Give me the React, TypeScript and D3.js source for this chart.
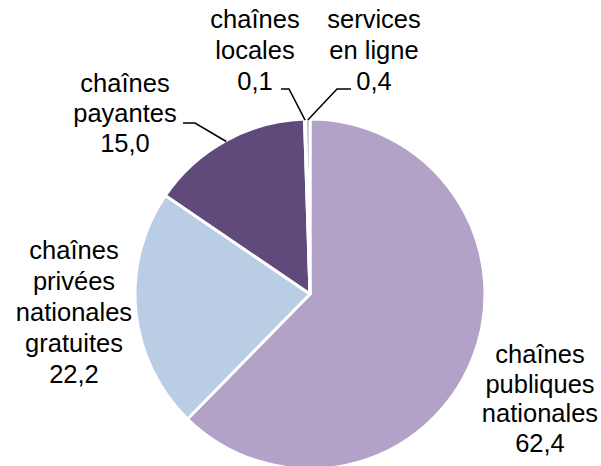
import React from "react";
import * as d3 from "d3";

// Audience share by channel type
const categories = [
  "chaînes publiques nationales",
  "chaînes privées nationales gratuites",
  "chaînes payantes",
  "chaînes locales",
  "services en ligne",
];
const values = [62.4, 22.2, 15.0, 0.1, 0.4];
const labelLines = [
  ["chaînes", "publiques", "nationales"],
  ["chaînes", "privées", "nationales", "gratuites"],
  ["chaînes", "payantes"],
  ["chaînes", "locales"],
  ["services", "en ligne"],
];
const colors = ["#B3A2C7", "#B9CDE5", "#604A7B", "#7F6A9A", "#A6A6A6"];

// Label placement: centre x, first baseline y, line step, optional leader knee
type LabelLayout = {
  x: number;
  y: number;
  step: number;
  leader?: { x0: number; x1: number; y: number };
};
const labelLayout: LabelLayout[] = [
  { x: 540, y: 363, step: 29.5 },
  { x: 74, y: 259, step: 31 },
  { x: 125, y: 92, step: 30, leader: { x0: 183, x1: 195, y: 123 } },
  { x: 255, y: 28, step: 31, leader: { x0: 281, x1: 289, y: 89 } },
  { x: 374, y: 28, step: 31, leader: { x0: 351, x1: 337, y: 89 } },
];

const W = 601;
const H = 466;
const cx = 310;
const cy = 294;
const R = 175;

const fmt = (v: number) => v.toFixed(1).replace(".", ",");

export default function App() {
  const pie = d3
    .pie<number>()
    .sort(null)
    .startAngle(0)
    .endAngle(2 * Math.PI)
    .value((d) => d);
  const arcs = pie(values);
  const arc = d3.arc<d3.PieArcDatum<number>>().innerRadius(0).outerRadius(R);

  return (
    <svg
      width={W}
      height={H}
      style={{ position: "absolute", left: 0, top: 0, background: "#fff" }}
      fontFamily="'Liberation Sans', Arial, sans-serif"
    >
      <g transform={`translate(${cx},${cy})`}>
        {arcs.map((a, i) => (
          <path
            key={categories[i]}
            d={arc(a) || ""}
            fill={colors[i]}
            stroke="#fff"
            strokeWidth={3}
            strokeLinejoin="round"
          />
        ))}
      </g>
      {arcs.map((a, i) => {
        const L = labelLayout[i];
        if (!L.leader) return null;
        const mid = (a.startAngle + a.endAngle) / 2;
        const ex = cx + Math.sin(mid) * (R - 1);
        const ey = cy - Math.cos(mid) * (R - 1);
        const pts: [number, number][] = [
          [L.leader.x0, L.leader.y],
          [L.leader.x1, L.leader.y],
          [ex, ey],
        ];
        return (
          <path
            key={"leader-" + i}
            d={d3.line()(pts) || ""}
            fill="none"
            stroke="#000"
            strokeWidth={1.5}
          />
        );
      })}
      {labelLines.map((lines, i) => {
        const L = labelLayout[i];
        const all = [...lines, fmt(values[i])];
        return (
          <text
            key={"label-" + i}
            x={L.x}
            y={L.y}
            textAnchor="middle"
            fontSize={25.5}
            fill="#000"
          >
            {all.map((t, j) => (
              <tspan key={j} x={L.x} y={L.y + j * L.step}>
                {t}
              </tspan>
            ))}
          </text>
        );
      })}
    </svg>
  );
}
